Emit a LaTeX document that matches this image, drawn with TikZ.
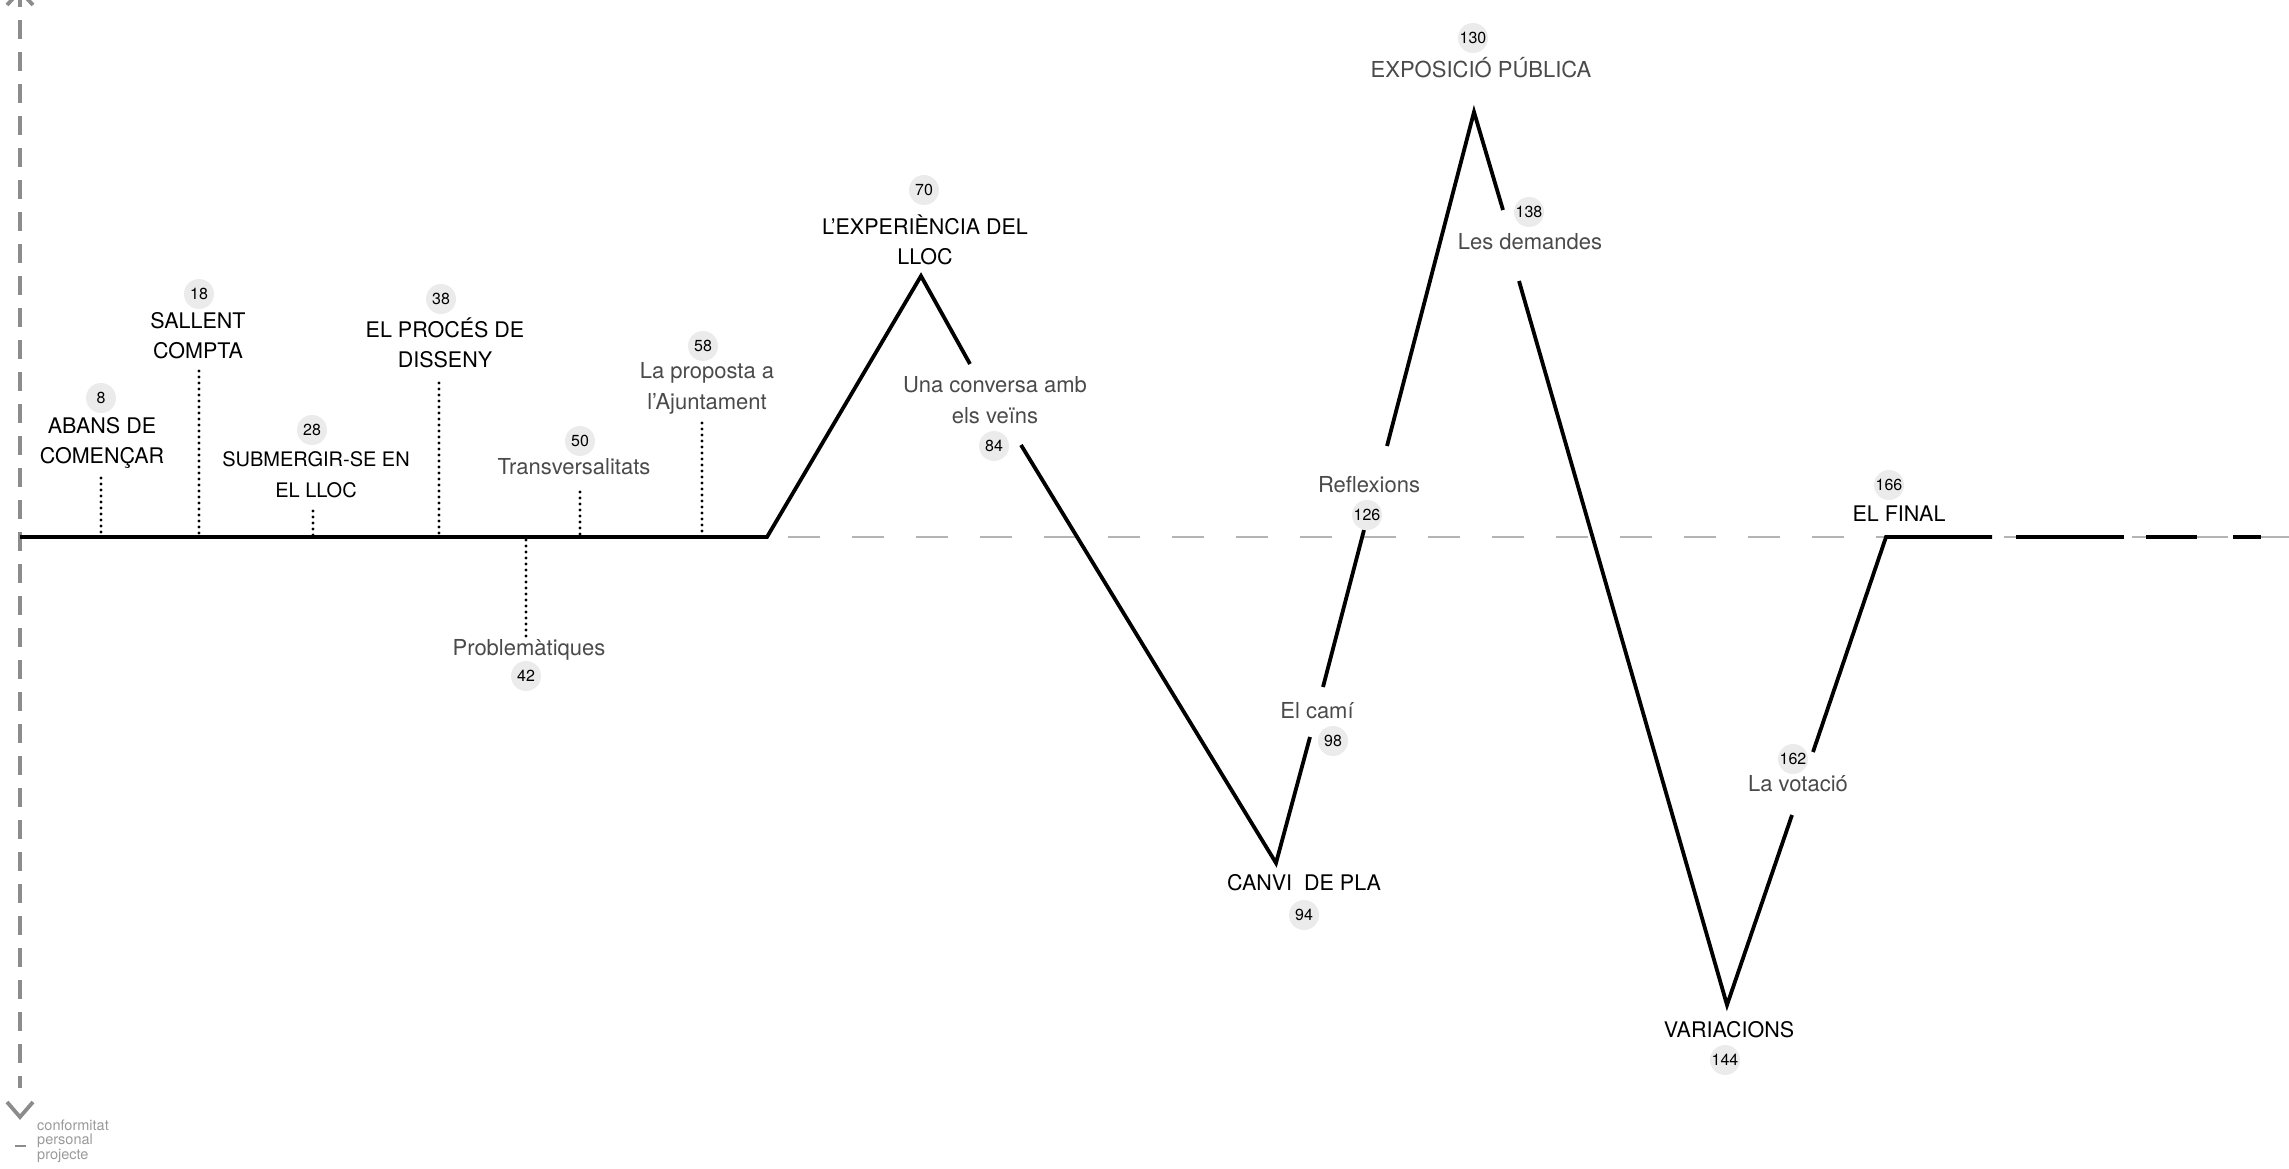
\documentclass[tikz,border=0pt]{standalone}
\usepackage{fontspec}
\setmainfont{TeX Gyre Heros}
\definecolor{refgray}{HTML}{B4B4B4}
\definecolor{axisgray}{HTML}{8C8C8C}
\definecolor{numfill}{HTML}{EBEBEB}
\definecolor{lighttext}{HTML}{4A4A4A}
\definecolor{legendtext}{HTML}{9A9A9A}
\begin{document}
\begin{tikzpicture}[x=1pt,y=-1pt,
  mainline/.style={line width=3.8pt, black, line join=miter, line cap=butt},
  tickline/.style={line width=3.2pt, black, line cap=round, dash pattern=on 0pt off 6pt},
  refline/.style={line width=1.8pt, refgray, dash pattern=on 32pt off 32pt},
  axisline/.style={line width=3.2pt, axisgray, dash pattern=on 19pt off 13pt},
  chevron/.style={line width=3.8pt, axisgray, line join=miter},
  numc/.style={circle, fill=numfill, minimum size=30pt, inner sep=0pt, font=\fontsize{16}{16}\selectfont},
  labdark/.style={align=center, anchor=base, inner sep=0pt, font=\fontsize{21.5}{30}\selectfont},
  lablight/.style={labdark, text=lighttext, font=\fontsize{22}{31}\selectfont},
  legend/.style={align=left, anchor=base west, inner sep=0pt, text=legendtext, font=\fontsize{14.5}{14.5}\selectfont}]
\useasboundingbox (0,0) rectangle (2289,1169);

% ---- coordinates of the curve ----
\coordinate (axtop) at (20,-12);
\coordinate (axbot) at (20,1088);
\coordinate (g0) at (20,537);
\coordinate (g1) at (2289,537);
\coordinate (b0) at (20,537);
\coordinate (b1) at (767,537);
\coordinate (p70) at (921,276);
\coordinate (c70) at (970,364);
\coordinate (c84) at (1021,445);
\coordinate (v94) at (1276,863);
\coordinate (c98a) at (1310,737);
\coordinate (c98b) at (1323,687);
\coordinate (c126a) at (1364,530);
\coordinate (c126b) at (1387,446);
\coordinate (p130) at (1474,112);
\coordinate (c138a) at (1503,210);
\coordinate (c138b) at (1519,281);
\coordinate (v144) at (1727,1005);
\coordinate (c162a) at (1792,815);
\coordinate (c162b) at (1813,752);
\coordinate (f166) at (1886,537);
\coordinate (e1) at (1992,537);
\coordinate (e2a) at (2016,537);
\coordinate (e2b) at (2124,537);
\coordinate (e3a) at (2146,537);
\coordinate (e3b) at (2197,537);
\coordinate (e4a) at (2233,537);
\coordinate (e4b) at (2261,537);

% ---- vertical axis ----
\draw[axisline] (axtop) -- (axbot);
\coordinate (atl) at (7,5);
\coordinate (att) at (20,-9);
\coordinate (atr) at (33,5);
\draw[chevron] (atl) -- (att) -- (atr);
\coordinate (abl) at (7,1102);
\coordinate (abt) at (20,1117);
\coordinate (abr) at (33,1102);
\draw[chevron] (abl) -- (abt) -- (abr);
\node[legend] (leg) at (37,1159) {conformitat\\personal\\projecte};
\coordinate (mdl) at (15,1146);
\coordinate (mdr) at (26,1146);
\draw[line width=2pt, axisgray] (mdl) -- (mdr);

% ---- reference (neutral) line ----
\draw[refline] (g0) -- (g1);

% ---- dotted ticks ----
\foreach \n/\x/\t in {8/101/478, 18/199/371, 28/313/511, 38/439/383, 50/580/492, 58/702/423}{
  \coordinate (t\n top) at (\x,\t);
  \coordinate (t\n bot) at (\x,535);
  \draw[tickline] (t\n top) -- (t\n bot);
}
\coordinate (t42top) at (526,540);
\coordinate (t42bot) at (526,637);
\draw[tickline] (t42top) -- (t42bot);

% ---- main curve ----
\draw[mainline] (b0) -- (b1) -- (p70) -- (c70);
\draw[mainline] (c84) -- (v94) -- (c98a);
\draw[mainline] (c98b) -- (c126a);
\draw[mainline] (c126b) -- (p130) -- (c138a);
\draw[mainline] (c138b) -- (v144) -- (c162a);
\draw[mainline] (c162b) -- (f166) -- (e1);
\draw[mainline] (e2a) -- (e2b);
\draw[mainline] (e3a) -- (e3b);
\draw[mainline] (e4a) -- (e4b);

% ---- number badges ----
\node[numc] (n8) at (101,398) {8};
\node[numc] (n18) at (199,294) {18};
\node[numc] (n28) at (312,430) {28};
\node[numc] (n38) at (441,299) {38};
\node[numc] (n42) at (526,676) {42};
\node[numc] (n50) at (580,441) {50};
\node[numc] (n58) at (703,346) {58};
\node[numc] (n70) at (924,190) {70};
\node[numc] (n84) at (994,446) {84};
\node[numc] (n94) at (1304,915) {94};
\node[numc] (n98) at (1333,741) {98};
\node[numc] (n126) at (1367,515) {126};
\node[numc] (n130) at (1473,38) {130};
\node[numc] (n138) at (1529,212) {138};
\node[numc] (n144) at (1725,1060) {144};
\node[numc] (n162) at (1793,759) {162};
\node[numc] (n166) at (1889,485) {166};

% ---- labels (base = baseline of last line) ----
\node[labdark] (l8) at (102,463) {ABANS DE\\COMENÇAR};
\node[labdark] (l18) at (198,358) {SALLENT\\COMPTA};
\node[labdark, font=\fontsize{20}{31}\selectfont] (l28) at (316,497) {SUBMERGIR-SE EN\\EL LLOC};
\node[labdark] (l38) at (445,367) {EL PROCÉS DE\\DISSENY};
\node[lablight] (l42) at (529,655) {Problemàtiques};
\node[lablight] (l50) at (574,474) {Transversalitats};
\node[lablight] (l58) at (707,409) {La proposta a\\l’Ajuntament};
\node[labdark] (l70) at (925,264) {L’EXPERIÈNCIA DEL\\LLOC};
\node[lablight] (l84) at (995,423) {Una conversa amb\\els veïns};
\node[labdark] (l94) at (1304,890) {CANVI\ \ DE PLA};
\node[lablight] (l98) at (1317,718) {El camí};
\node[lablight] (l126) at (1369,492) {Reflexions};
\node[lablight] (l130) at (1481,78) {EXPOSICIÓ PÚBLICA};
\node[lablight] (l138) at (1530,249) {Les demandes};
\node[labdark] (l144) at (1729,1037) {VARIACIONS};
\node[lablight] (l162) at (1798,791) {La votació};
\node[labdark] (l166) at (1899,521) {EL FINAL};
\end{tikzpicture}
\end{document}
